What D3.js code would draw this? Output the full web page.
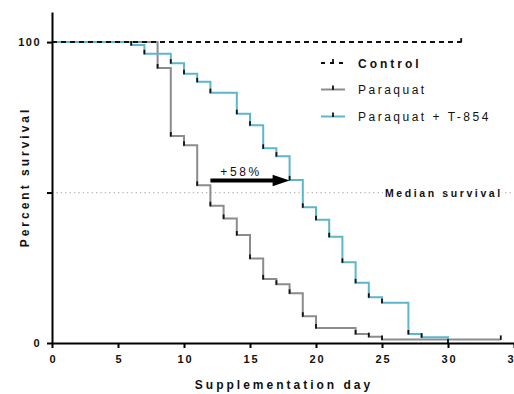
<!DOCTYPE html>
<html>
<head>
<meta charset="utf-8">
<script src="https://cdn.jsdelivr.net/npm/d3@7"></script>
<style>
  html, body { margin: 0; padding: 0; background: #fff; }
  svg { display: block; font-family: "Liberation Sans", Arial, sans-serif; }
</style>
</head>
<body>
<svg id="chart" width="514" height="394"></svg>
<script>
// ---- data ----
const controlDays = [0, 31];
const controlSurv = [100, 100];
const paraquatDays = [0, 8, 9, 10, 11, 12, 13, 14, 15, 16, 17, 18, 19, 20, 23, 24, 25, 34];
const paraquatSurv = [100, 91.4, 68.8, 65.7, 52.4, 45.6, 41.4, 35.9, 28.1, 21.3, 19.5, 16.5, 8.9, 5.0, 3.0, 2.1, 1.2, 1.2];
const t854Days = [0, 6, 7, 9, 10, 11, 12, 14, 15, 16, 17, 18, 19, 20, 21, 22, 23, 24, 25, 27, 28, 30];
const t854Surv = [100, 99.0, 96.1, 93.0, 89.5, 86.8, 83.2, 76.2, 72.4, 64.7, 62.1, 54.2, 45.1, 41.0, 35.3, 26.8, 20.0, 15.2, 13.4, 3.0, 1.9, 0];
const xTicks = [0, 5, 10, 15, 20, 25, 30, 35];
const yTicks = [0, 50, 100];
const yTickLabels = ["0", "", "100"];
const seriesNames = ["Control", "Paraquat", "Paraquat + T-854"];
const medianLevel = 50;
const arrowFromDay = 12, arrowToDay = 18, arrowLevel = 54;
const arrowLabel = "+58%";

// ---- setup ----
const svg = d3.select("#chart");
const x = d3.scaleLinear().domain([0, 35]).range([52, 514]);
const y = d3.scaleLinear().domain([0, 110]).range([343, 12]);
const GRAY = "#8c8c8c", BLUE = "#5cb6cc";

const zip = (a, b) => a.map((d, i) => ({ day: d, s: b[i] }));
const control = zip(controlDays, controlSurv);
const paraquat = zip(paraquatDays, paraquatSurv);
const t854 = zip(t854Days, t854Surv);

const line = d3.line().x(d => x(d.day)).y(d => y(d.s)).curve(d3.curveStepAfter);

// median dotted line
svg.append("line")
  .attr("x1", x(0)).attr("x2", x(35))
  .attr("y1", y(medianLevel)).attr("y2", y(medianLevel))
  .attr("stroke", "#b8b8b8").attr("stroke-width", 1.2)
  .attr("stroke-dasharray", "1.3,3.1");

// median label with white background
const medTxt = svg.append("text")
  .attr("x", 385).attr("y", y(medianLevel) + 4.5)
  .attr("font-size", 10.5).attr("font-weight", "bold")
  .attr("letter-spacing", 2.6).attr("fill", "#111")
  .text("Median survival");
const bb = medTxt.node().getBBox();
svg.insert("rect", "text")
  .attr("x", bb.x - 2).attr("y", bb.y).attr("width", bb.width + 1).attr("height", bb.height)
  .attr("fill", "#fff");

// series
function drawSeries(data, color, dash) {
  svg.append("path").datum(data)
    .attr("d", line).attr("fill", "none")
    .attr("stroke", color).attr("stroke-width", 2)
    .attr("stroke-dasharray", dash || null);
}
function drawTicks(data) {
  svg.selectAll(null).data(data.slice(1)).enter().append("line")
    .attr("x1", d => x(d.day)).attr("x2", d => x(d.day))
    .attr("y1", d => y(d.s) + 0.5).attr("y2", d => y(d.s) - 4)
    .attr("stroke", "#111").attr("stroke-width", 1.8);
}
drawSeries(paraquat, GRAY);
drawSeries(t854, BLUE);
drawTicks(paraquat);
drawTicks(t854);
drawSeries(control, "#111", "5,4");
drawTicks(control);

// axes
const xAxis = d3.axisBottom(x).tickValues(xTicks).tickSize(5).tickSizeOuter(0).tickPadding(7);
const gx = svg.append("g").attr("transform", `translate(0,${y(0)})`).call(xAxis);
gx.select(".domain").attr("stroke", "#000").attr("stroke-width", 2);
gx.selectAll(".tick line").attr("stroke", "#000").attr("stroke-width", 2);
gx.selectAll(".tick text").attr("font-size", 11).attr("font-weight", "bold")
  .attr("letter-spacing", 2).attr("fill", "#111").attr("font-family", "Liberation Sans, Arial, sans-serif")
  .attr("dx", 1);

const yAxis = d3.axisLeft(y).tickValues(yTicks).tickSize(5).tickSizeOuter(0).tickPadding(6)
  .tickFormat((d, i) => yTickLabels[i]);
const gy = svg.append("g").attr("transform", `translate(${x(0)},0)`).call(yAxis);
gy.select(".domain").attr("stroke", "#000").attr("stroke-width", 2);
gy.selectAll(".tick line").attr("stroke", "#000").attr("stroke-width", 2);
gy.selectAll(".tick text").attr("font-size", 11).attr("font-weight", "bold")
  .attr("letter-spacing", 1.5).attr("fill", "#111").attr("font-family", "Liberation Sans, Arial, sans-serif");

// axis titles
svg.append("text").attr("x", 284).attr("y", 389).attr("text-anchor", "middle")
  .attr("font-size", 12).attr("font-weight", "bold").attr("letter-spacing", 3).attr("fill", "#111")
  .text("Supplementation day");
svg.append("text").attr("transform", "translate(29,177) rotate(-90)").attr("text-anchor", "middle")
  .attr("font-size", 12).attr("font-weight", "bold").attr("letter-spacing", 3).attr("fill", "#111")
  .text("Percent survival");

// arrow annotation
const ay = y(arrowLevel);
svg.append("line").attr("x1", x(arrowFromDay)).attr("x2", x(arrowToDay) - 14)
  .attr("y1", ay).attr("y2", ay).attr("stroke", "#000").attr("stroke-width", 3.8);
svg.append("path")
  .attr("d", `M${x(arrowToDay)},${ay} L${x(arrowToDay) - 17},${ay - 5.8} L${x(arrowToDay) - 17},${ay + 5.8} Z`)
  .attr("fill", "#000");
svg.append("text").attr("x", 241).attr("y", ay - 4.5).attr("text-anchor", "middle")
  .attr("font-size", 12).attr("letter-spacing", 2.6).attr("fill", "#111")
  .text(arrowLabel);

// legend
const lg = svg.append("g");
const legendRows = [
  { name: seriesNames[0], color: "#111", dash: "4,5", bold: true, yy: 63 },
  { name: seriesNames[1], color: GRAY, dash: null, bold: false, yy: 89.5 },
  { name: seriesNames[2], color: BLUE, dash: null, bold: false, yy: 116.5 }
];
legendRows.forEach(r => {
  lg.append("line").attr("x1", 321).attr("x2", 345).attr("y1", r.yy).attr("y2", r.yy)
    .attr("stroke", r.color).attr("stroke-width", 2).attr("stroke-dasharray", r.dash);
  lg.append("line").attr("x1", 333).attr("x2", 333).attr("y1", r.yy + 0.5).attr("y2", r.yy - 4)
    .attr("stroke", "#111").attr("stroke-width", 1.8);
  lg.append("text").attr("x", 358).attr("y", r.yy + 4.5)
    .attr("font-size", 12).attr("font-weight", r.bold ? "bold" : "normal")
    .attr("letter-spacing", r.bold ? 3 : 2.5).attr("fill", "#111")
    .text(r.name);
});
</script>
</body>
</html>
